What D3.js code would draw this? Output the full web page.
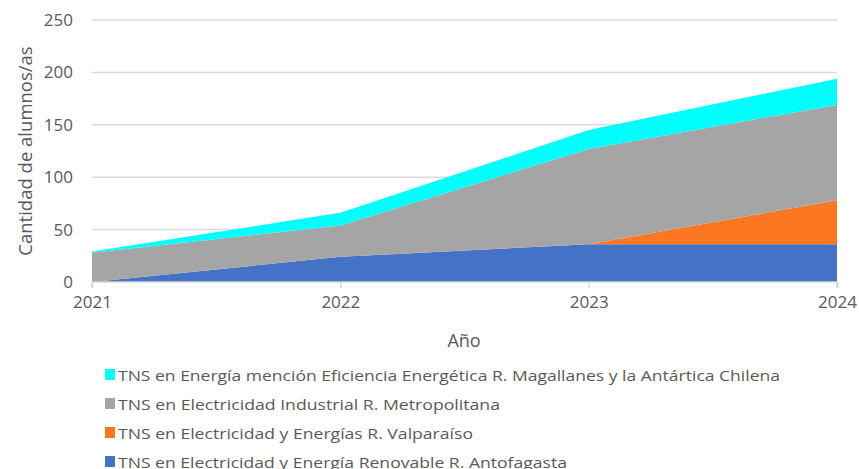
<!DOCTYPE html>
<html>
<head>
<meta charset="utf-8">
<script src="https://cdn.jsdelivr.net/npm/d3@7"></script>
<style>
  body { margin: 0; background: #fff; }
  text { font-family: "Open Sans", "Noto Sans", sans-serif; fill: #595959; }
</style>
</head>
<body>
<script>
const years = [2021, 2022, 2023, 2024]
const yTicks = [0, 50, 100, 150, 200, 250]

// stacked bottom to top
const antofagasta = [0, 24, 36, 36]
const valparaiso = [0, 0, 0, 42]
const metropolitana = [28, 30, 91, 91]
const magallanes = [1, 12, 18, 25]

const seriesNames = [
  'TNS en Electricidad y Energía Renovable R. Antofagasta',
  'TNS en Electricidad y Energías R. Valparaíso',
  'TNS en Electricidad Industrial R. Metropolitana',
  'TNS en Energía mención Eficiencia Energética R. Magallanes y la Antártica Chilena'
]
const seriesColors = ['#4472c4', '#fd7722', '#a5a5a5', '#00ffff']
const legendWidths = [449, 355, 382, 662]

const width = 859
const height = 469
const margin = { top: 20, left: 92, right: 22, bottom: 187 }
const plotW = width - margin.left - margin.right
const plotH = height - margin.top - margin.bottom

const keys = ['a', 'v', 'm', 'g']
const rows = years.map((y, i) => ({
  year: y, a: antofagasta[i], v: valparaiso[i], m: metropolitana[i], g: magallanes[i]
}))

const stack = d3.stack().keys(keys)(rows)

const xScale = d3.scalePoint()
  .domain(years)
  .range([0, plotW])

const yScale = d3.scaleLinear()
  .domain([0, 250])
  .range([plotH, 0])

const svg = d3.select('body').append('svg')
  .attr('width', width)
  .attr('height', height)

const plot = svg.append('g')
  .attr('transform', `translate(${margin.left}, ${margin.top})`)

// gridlines
plot.append('g')
  .selectAll('line')
  .data(yTicks.filter(d => d > 0))
  .join('line')
  .attr('x1', 0)
  .attr('x2', plotW)
  .attr('y1', d => yScale(d))
  .attr('y2', d => yScale(d))
  .attr('stroke', '#d9d9d9')
  .attr('stroke-width', 1.5)

const area = d3.area()
  .x(d => xScale(d.data.year))
  .y0(d => yScale(d[0]))
  .y1(d => yScale(d[1]))

plot.append('g')
  .selectAll('path')
  .data(stack)
  .join('path')
  .attr('fill', (d, i) => seriesColors[i])
  .attr('d', area)

// x axis
const xAxis = plot.append('g')
  .attr('transform', `translate(0, ${plotH})`)
  .call(d3.axisBottom(xScale).tickSize(6).tickPadding(8))
xAxis.select('.domain').attr('stroke', '#d9d9d9').attr('stroke-width', 1.5)
  .attr('d', `M0,6V0H${plotW}V6`)
xAxis.selectAll('.tick line').attr('stroke', '#d9d9d9').attr('stroke-width', 1.5)
xAxis.selectAll('.tick text')
  .attr('font-size', 17)
  .attr('fill', '#595959')
  .style('font-family', '"Open Sans", "Noto Sans", sans-serif')

// y axis
const yAxis = plot.append('g')
  .call(d3.axisLeft(yScale).tickValues(yTicks).tickSize(0).tickPadding(19))
yAxis.select('.domain').remove()
yAxis.selectAll('.tick text')
  .attr('font-size', 17)
  .attr('fill', '#595959')
  .style('font-family', '"Open Sans", "Noto Sans", sans-serif')

// axis titles
svg.append('text')
  .attr('x', 464)
  .attr('y', 347)
  .attr('text-anchor', 'middle')
  .attr('font-size', 18)
  .text('Año')

svg.append('text')
  .attr('transform', 'translate(32, 151) rotate(-90)')
  .attr('text-anchor', 'middle')
  .attr('font-size', 18.5)
  .text('Cantidad de alumnos/as')

// legend, top entry first
const legendOrder = [3, 2, 1, 0]
const legend = svg.append('g')
  .selectAll('g')
  .data(legendOrder)
  .join('g')
  .attr('transform', (d, i) => `translate(105, ${375 + i * 29})`)

legend.append('rect')
  .attr('x', 0)
  .attr('y', -6)
  .attr('width', 10)
  .attr('height', 11)
  .attr('fill', d => seriesColors[d])

legend.append('text')
  .attr('x', 13)
  .attr('y', 5.5)
  .attr('font-size', 15)
  .attr('textLength', d => legendWidths[d])
  .attr('lengthAdjust', 'spacingAndGlyphs')
  .text(d => seriesNames[d])
</script>
</body>
</html>
